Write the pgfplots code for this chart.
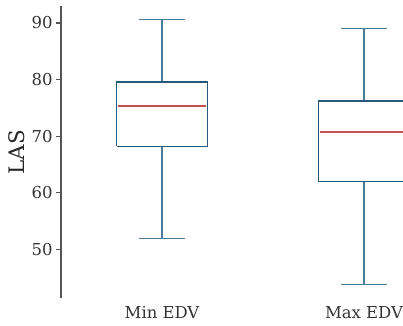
\documentclass[border=0pt]{standalone}
\usepackage{fontspec}
\setmainfont{DejaVu Serif}
\usepackage{pgfplots}
\pgfplotsset{compat=1.18}
\definecolor{boxc}{HTML}{27597A}
\definecolor{whc}{HTML}{4A7B98}
\definecolor{medc}{HTML}{C44E52}
\definecolor{spine}{HTML}{555555}
\begin{document}
\begin{tikzpicture}
\begin{axis}[
 at={(0,0)}, anchor=south west,
 scale only axis, width=342bp, height=292.3bp,
 xmin=0.5, xmax=2.193, ymin=41.34, ymax=93.0,
 axis y line*=left, axis x line*=bottom,
 x axis line style={draw=none},
 y axis line style={draw=spine, line width=1.1bp},
 xtick={1,2}, xticklabels={Min EDV, Max EDV},
 xtick style={draw=none},
 ytick={50,60,70,80,90},
 ytick style={draw=spine, line width=1.1bp},
 tick align=outside, major tick length=5bp,
 ticklabel style={font=\fontsize{16.5}{19}\selectfont, text=black!80},
 ylabel={LAS}, ylabel style={font=\fontsize{21.5}{24}\selectfont, text=black!85},
 /pgf/number format/assume math mode=true,
 unbounded coords=jump,
 every axis plot/.append style={no marks, sharp plot},
]
% whiskers and caps
\addplot[draw=whc, line width=1.2bp] coordinates {
 (1,79.58) (1,90.58) (nan,nan) (0.887,90.58) (1.113,90.58) (nan,nan)
 (1,68.2) (1,51.84) (nan,nan) (0.887,51.84) (1.113,51.84) (nan,nan)
 (2,76.2) (2,89.0) (nan,nan) (1.887,89.0) (2.113,89.0) (nan,nan)
 (2,61.96) (2,43.77) (nan,nan) (1.887,43.77) (2.113,43.77)};
% boxes (lower quartile -> upper quartile)
\addplot[draw=boxc, line width=1.2bp, line join=miter] coordinates {
 (0.775,68.2) (1.225,68.2) (1.225,79.58) (0.775,79.58) (0.775,68.2) (nan,nan)
 (1.775,61.96) (2.225,61.96) (2.225,76.2) (1.775,76.2) (1.775,61.96)};
% medians
\addplot[draw=medc, line width=1.6bp] coordinates {
 (0.78,75.35) (1.22,75.35) (nan,nan) (1.78,70.74) (2.22,70.74)};
\end{axis}
\pgfresetboundingbox
\path[use as bounding box] (-61bp,-27.7bp) rectangle (342bp,298.3bp);
\end{tikzpicture}
\end{document}
